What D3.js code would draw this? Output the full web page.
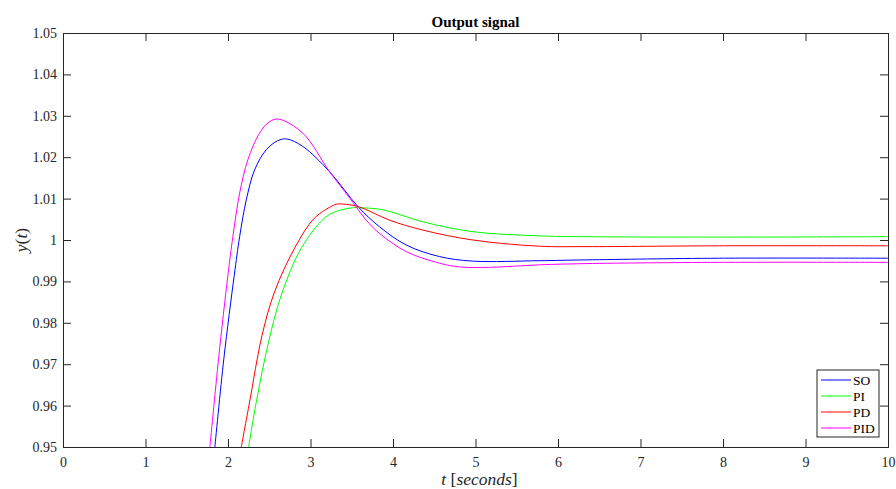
<!DOCTYPE html>
<html>
<head>
<meta charset="utf-8">
<script src="https://cdn.jsdelivr.net/npm/d3@7"></script>
<style>
  body { margin: 0; background: #fff; }
  svg text { font-family: "Liberation Serif", "Times New Roman", serif; fill: #262626; }
</style>
</head>
<body>
<svg class="chart"></svg>
<script>
// values
var seriesNames = ["SO", "PI", "PD", "PID"];
var seriesColors = ["#0000ff", "#00ff00", "#ff0000", "#ff00ff"];

var soT  = [1.841, 1.950, 2.076, 2.141, 2.222, 2.322, 2.464, 2.604, 2.713, 2.907, 3.231, 3.574, 3.836, 4.160, 4.563, 4.967, 5.775, 6.340, 7.955, 10];
var soY  = [0.9500, 0.9714, 0.9915, 1.0008, 1.0097, 1.0169, 1.0218, 1.0240, 1.0244, 1.0226, 1.0165, 1.0081, 1.0032, 0.9988, 0.9960, 0.9949, 0.9950, 0.9952, 0.9956, 0.9956];

var piT  = [2.250, 2.343, 2.492, 2.646, 2.888, 3.170, 3.312, 3.513, 3.594, 3.876, 4.361, 4.967, 5.775, 6.340, 7.955, 10];
var piY  = [0.9500, 0.9609, 0.9754, 0.9867, 0.9980, 1.0053, 1.0069, 1.0078, 1.0078, 1.0073, 1.0044, 1.0020, 1.0010, 1.0008, 1.0007, 1.0008];

var pdT  = [2.161, 2.262, 2.413, 2.565, 2.807, 3.049, 3.291, 3.331, 3.574, 3.958, 4.361, 4.967, 5.775, 6.340, 7.955, 10];
var pdY  = [0.9500, 0.9609, 0.9770, 0.9875, 0.9980, 1.0053, 1.0085, 1.0087, 1.0081, 1.0048, 1.0024, 1.0000, 0.9985, 0.9984, 0.9986, 0.9986];

var pidT = [1.781, 1.886, 1.999, 2.059, 2.141, 2.241, 2.383, 2.504, 2.613, 2.907, 3.231, 3.473, 3.675, 3.836, 4.160, 4.563, 4.806, 5.169, 5.775, 6.340, 7.955, 10];
var pidY = [0.9500, 0.9714, 0.9915, 1.0008, 1.0113, 1.0194, 1.0258, 1.0286, 1.0292, 1.0258, 1.0165, 1.0102, 1.0048, 1.0016, 0.9972, 0.9944, 0.9935, 0.9934, 0.9940, 0.9943, 0.9946, 0.9946];

var xTicks = [0, 1, 2, 3, 4, 5, 6, 7, 8, 9, 10];
var yTicks = [0.95, 0.96, 0.97, 0.98, 0.99, 1, 1.01, 1.02, 1.03, 1.04, 1.05];

var width = 896;
var height = 489;
var margin = {top: 33, right: 8, bottom: 42, left: 63};

var svg = d3.select(".chart")
  .attr("width", width)
  .attr("height", height);

var x = d3.scaleLinear().domain([0, 10]).range([margin.left, width - margin.right]);
var y = d3.scaleLinear().domain([0.95, 1.05]).range([height - margin.bottom, margin.top]);

var axisColor = "#262626";
var serif = "'Liberation Serif', 'Times New Roman', serif";
var fmt = function(d) { return String(+d.toFixed(2)); };

// axes, ticks pointing inward, mirrored on top and right
var gBottom = svg.append("g")
  .attr("transform", "translate(0," + y.range()[0] + ")")
  .call(d3.axisBottom(x).tickValues(xTicks).tickSize(-8).tickPadding(10).tickFormat(fmt));
var gLeft = svg.append("g")
  .attr("transform", "translate(" + x.range()[0] + ",0)")
  .call(d3.axisLeft(y).tickValues(yTicks).tickSize(-8).tickPadding(6).tickFormat(fmt));
var gTop = svg.append("g")
  .attr("transform", "translate(0," + y.range()[1] + ")")
  .call(d3.axisTop(x).tickValues(xTicks).tickSize(-8).tickFormat(""));
var gRight = svg.append("g")
  .attr("transform", "translate(" + x.range()[1] + ",0)")
  .call(d3.axisRight(y).tickValues(yTicks).tickSize(-8).tickFormat(""));

[gBottom, gLeft, gTop, gRight].forEach(function(g) {
  g.attr("font-family", serif).attr("font-size", 14);
  g.select(".domain").attr("stroke", axisColor).attr("stroke-width", 1);
  g.selectAll(".tick line").attr("stroke", axisColor).attr("stroke-width", 1);
  g.selectAll(".tick text")
    .style("font-family", serif)
    .style("font-size", "14px")
    .style("fill", axisColor);
});

// clip for the curves
svg.append("clipPath").attr("id", "plotclip")
  .append("rect")
  .attr("x", x.range()[0]).attr("y", y.range()[1])
  .attr("width", x.range()[1] - x.range()[0])
  .attr("height", y.range()[0] - y.range()[1]);

var line = d3.line()
  .x(function(d) { return x(d[0]); })
  .y(function(d) { return y(d[1]); })
  .curve(d3.curveCatmullRom.alpha(0.5));

var series = [
  d3.zip(soT, soY),
  d3.zip(piT, piY),
  d3.zip(pdT, pdY),
  d3.zip(pidT, pidY)
];

var curves = svg.append("g").attr("clip-path", "url(#plotclip)");
curves.selectAll("path")
  .data(series)
  .enter()
  .append("path")
  .attr("d", line)
  .attr("fill", "none")
  .attr("stroke", function(d, i) { return seriesColors[i]; })
  .attr("stroke-width", 1);

// title
svg.append("text")
  .attr("x", (x.range()[0] + x.range()[1]) / 2)
  .attr("y", 27)
  .attr("text-anchor", "middle")
  .style("font-size", "15px")
  .style("font-weight", "bold")
  .style("fill", "#000")
  .text("Output signal");

// x label: t [seconds]
var xl = svg.append("text")
  .attr("x", (x.range()[0] + x.range()[1]) / 2 + 4)
  .attr("y", 485)
  .attr("text-anchor", "middle")
  .style("font-size", "17.5px");
xl.append("tspan").style("font-style", "italic").text("t");
xl.append("tspan").text(" [");
xl.append("tspan").style("font-style", "italic").text("seconds");
xl.append("tspan").text("]");

// y label: y(t)
var yl = svg.append("text")
  .attr("transform", "translate(27," + ((y.range()[0] + y.range()[1]) / 2) + ") rotate(-90)")
  .attr("text-anchor", "middle")
  .style("font-size", "17.5px");
yl.append("tspan").style("font-style", "italic").text("y");
yl.append("tspan").text("(");
yl.append("tspan").style("font-style", "italic").text("t");
yl.append("tspan").text(")");

// legend
var legend = svg.append("g").attr("transform", "translate(817,370)");
legend.append("rect")
  .attr("width", 62).attr("height", 67)
  .attr("fill", "#fff")
  .attr("stroke", axisColor)
  .attr("stroke-width", 1);

var item = legend.selectAll(".item")
  .data(seriesNames)
  .enter()
  .append("g")
  .attr("class", "item")
  .attr("transform", function(d, i) { return "translate(0," + (10 + i * 16) + ")"; });

item.append("line")
  .attr("x1", 4).attr("x2", 34)
  .attr("stroke", function(d, i) { return seriesColors[i]; })
  .attr("stroke-width", 1);

item.append("text")
  .attr("x", 36)
  .attr("y", 4.5)
  .style("font-size", "13.5px")
  .style("fill", "#000")
  .text(function(d) { return d; });
</script>
</body>
</html>
